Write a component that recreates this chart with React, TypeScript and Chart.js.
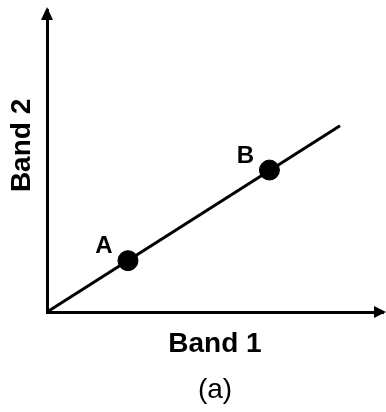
import React, { useEffect, useRef } from "react";
import { Chart, registerables } from "chart.js";

Chart.register(...registerables);

const xAxisTitle = "Band 1";
const yAxisTitle = "Band 2";
const caption = "(a)";

const lineX = [0, 8.72];
const lineY = [0, 6.17];

const pointLabels = ["A", "B"];
const pointX = [2.41, 6.62];
const pointY = [1.7, 4.7];

const FONT = "'Liberation Sans', Arial, sans-serif";

const arrowPlugin = {
  id: "axisArrows",
  afterDraw(chart: any) {
    const { ctx, chartArea } = chart;
    const { left, top, right, bottom } = chartArea;
    ctx.save();
    ctx.fillStyle = "#000";
    // y-axis arrow
    ctx.beginPath();
    ctx.moveTo(left, top - 3);
    ctx.lineTo(left - 6, top + 10);
    ctx.lineTo(left + 6, top + 10);
    ctx.closePath();
    ctx.fill();
    // x-axis arrow
    ctx.beginPath();
    ctx.moveTo(right + 3, bottom);
    ctx.lineTo(right - 9, bottom - 6);
    ctx.lineTo(right - 9, bottom + 6);
    ctx.closePath();
    ctx.fill();
    ctx.restore();
  },
};

const pointLabelPlugin = {
  id: "pointLabels",
  afterDatasetsDraw(chart: any) {
    const { ctx } = chart;
    const meta = chart.getDatasetMeta(1);
    ctx.save();
    ctx.fillStyle = "#000";
    ctx.font = `bold 24px ${FONT}`;
    ctx.textAlign = "center";
    ctx.textBaseline = "middle";
    meta.data.forEach((el: any, i: number) => {
      ctx.fillText(pointLabels[i], el.x - 24, el.y - 14);
    });
    ctx.restore();
  },
};

export default function App() {
  const ref = useRef<HTMLCanvasElement | null>(null);

  useEffect(() => {
    if (!ref.current) return;
    const chart = new Chart(ref.current, {
      type: "scatter",
      data: {
        datasets: [
          {
            type: "line",
            data: lineX.map((x, i) => ({ x, y: lineY[i] })),
            borderColor: "#000",
            borderWidth: 3,
            pointRadius: 0,
            fill: false,
          } as any,
          {
            type: "scatter",
            data: pointX.map((x, i) => ({ x, y: pointY[i] })),
            backgroundColor: "#000",
            borderColor: "#000",
            pointRadius: 10,
            pointHoverRadius: 10,
          },
        ],
      },
      options: {
        animation: false,
        responsive: false,
        events: [],
        layout: { autoPadding: false, padding: { top: 10, right: 3, left: 0, bottom: 0 } },
        plugins: {
          legend: { display: false },
          tooltip: { enabled: false },
          title: {
            display: true,
            position: "bottom",
            fullSize: false,
            text: caption,
            color: "#000",
            font: { family: FONT, size: 28, weight: "normal", lineHeight: 1 },
            padding: { top: 0, bottom: 7.5 },
          },
        },
        scales: {
          x: {
            type: "linear",
            min: 0,
            max: 10,
            grid: { display: false, drawTicks: false },
            ticks: { display: false },
            border: { display: true, color: "#000", width: 3 },
            title: {
              display: true,
              text: xAxisTitle,
              color: "#000",
              font: { family: FONT, size: 28, weight: "bold", lineHeight: 1.2 },
              padding: { top: 15.2, bottom: 15.7 },
            },
          },
          y: {
            type: "linear",
            min: 0,
            max: 10,
            grid: { display: false, drawTicks: false },
            ticks: { display: false },
            border: { display: true, color: "#000", width: 3 },
            title: {
              display: true,
              text: "    " + yAxisTitle,
              color: "#000",
              font: { family: FONT, size: 28, weight: "bold", lineHeight: 1.2 },
              padding: { top: 5.7, bottom: 7.7 },
            },
          },
        },
      },
      plugins: [arrowPlugin, pointLabelPlugin],
    });
    return () => chart.destroy();
  }, []);

  return (
    <div style={{ position: "fixed", left: 0, top: 0, width: 386, height: 412, background: "#fff" }}>
      <canvas ref={ref} width={386} height={412} style={{ display: "block" }} />
    </div>
  );
}
